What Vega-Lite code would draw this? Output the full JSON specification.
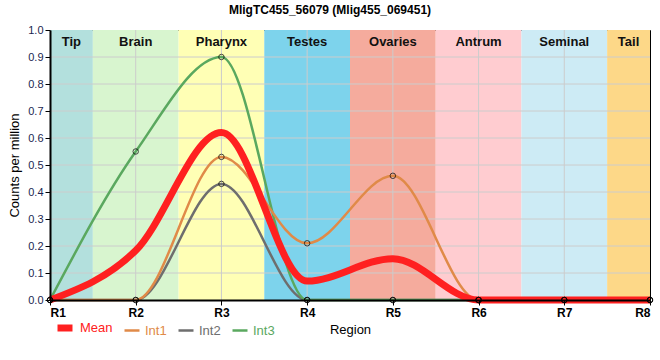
{
  "$schema": "https://vega.github.io/schema/vega-lite/v6.json",
  "width": 600,
  "height": 270,
  "autosize": {"type": "none"},
  "padding": {"left": 50, "top": 30, "right": 10, "bottom": 60},
  "background": "white",
  "title": {"text": "MligTC455_56079 (Mlig455_069451)", "font": "Liberation Sans", "fontSize": 12, "fontWeight": "bold", "color": "#000", "offset": 7, "dx": -20},
  "config": {
    "view": {"stroke": "#000", "strokeWidth": 1},
    "font": "Liberation Sans",
    "axis": {"labelOverlap": false},
    "axisY": {"labelOverlap": false, "format": ".1f", "tickCount": 10}
  },
  "datasets": {
    "bands": [
      {"region": "Tip", "start": 0, "end": 0.5, "color": "#b3e0dd"},
      {"region": "Brain", "start": 0.5, "end": 1.5, "color": "#d8f5cf"},
      {"region": "Pharynx", "start": 1.5, "end": 2.5, "color": "#ffffb5"},
      {"region": "Testes", "start": 2.5, "end": 3.5, "color": "#7dd3ec"},
      {"region": "Ovaries", "start": 3.5, "end": 4.5, "color": "#f5ab9d"},
      {"region": "Antrum", "start": 4.5, "end": 5.5, "color": "#ffccd0"},
      {"region": "Seminal", "start": 5.5, "end": 6.5, "color": "#cdebf5"},
      {"region": "Tail", "start": 6.5, "end": 7, "color": "#fdd888"}
    ],
    "hgrid": [{"v": 0.1}, {"v": 0.2}, {"v": 0.3}, {"v": 0.4}, {"v": 0.5}, {"v": 0.6}, {"v": 0.7}, {"v": 0.8}, {"v": 0.9}],
    "vgrid": [{"r": 1}, {"r": 2}, {"r": 3}, {"r": 4}, {"r": 5}, {"r": 6}],
    "series": [
      {"series": "Int2", "r": 0, "value": 0}, {"series": "Int2", "r": 1, "value": 0}, {"series": "Int2", "r": 2, "value": 0.43}, {"series": "Int2", "r": 3, "value": 0}, {"series": "Int2", "r": 4, "value": 0}, {"series": "Int2", "r": 5, "value": 0}, {"series": "Int2", "r": 6, "value": 0}, {"series": "Int2", "r": 7, "value": 0},
      {"series": "Int3", "r": 0, "value": 0}, {"series": "Int3", "r": 1, "value": 0.55}, {"series": "Int3", "r": 2, "value": 0.9}, {"series": "Int3", "r": 3, "value": 0}, {"series": "Int3", "r": 4, "value": 0}, {"series": "Int3", "r": 5, "value": 0}, {"series": "Int3", "r": 6, "value": 0}, {"series": "Int3", "r": 7, "value": 0},
      {"series": "Int1", "r": 0, "value": 0}, {"series": "Int1", "r": 1, "value": 0}, {"series": "Int1", "r": 2, "value": 0.53}, {"series": "Int1", "r": 3, "value": 0.21}, {"series": "Int1", "r": 4, "value": 0.46}, {"series": "Int1", "r": 5, "value": 0}, {"series": "Int1", "r": 6, "value": 0}, {"series": "Int1", "r": 7, "value": 0},
      {"series": "Mean", "r": 0, "value": 0}, {"series": "Mean", "r": 1, "value": 0.183}, {"series": "Mean", "r": 2, "value": 0.62}, {"series": "Mean", "r": 3, "value": 0.07}, {"series": "Mean", "r": 4, "value": 0.153}, {"series": "Mean", "r": 5, "value": 0}, {"series": "Mean", "r": 6, "value": 0}, {"series": "Mean", "r": 7, "value": 0}
    ]
  },
  "layer": [
    {
      "data": {"name": "bands"},
      "mark": {"type": "rect"},
      "encoding": {
        "x": {
          "field": "start", "type": "quantitative",
          "scale": {"domain": [0, 7], "nice": false},
          "axis": {
            "title": "Region", "values": [0, 1, 2, 3, 4, 5, 6, 7],
            "labelExpr": "'R' + (datum.value + 1)",
            "grid": false, "domainColor": "#000", "domainWidth": 2,
            "tickColor": "#000", "tickSize": 5, "labelFontSize": 12, "labelFontWeight": "bold", "labelColor": "#000",
            "labelPadding": 2, "labelOverlap": false,
            "titleFontSize": 13, "titleFontWeight": "normal", "titleColor": "#000", "titlePadding": 5, "zindex": 2
          }
        },
        "x2": {"field": "end"},
        "y": {
          "datum": 0, "type": "quantitative",
          "scale": {"domain": [0, 1], "nice": false},
          "axis": {
            "title": "Counts per million", "tickCount": 10,
            "format": ".1f", "grid": false, "domainColor": "#000", "domainWidth": 2, "labelOverlap": false,
            "tickColor": "#000", "tickSize": 5, "labelFontSize": 11, "labelColor": "#1a1f50", "labelPadding": 2,
            "titleFontSize": 13, "titleFontWeight": "normal", "titleColor": "#000", "titlePadding": 6, "zindex": 2
          }
        },
        "y2": {"datum": 1},
        "color": {"field": "color", "type": "nominal", "scale": null}
      }
    },
    {
      "data": {"name": "hgrid"},
      "mark": {"type": "rule", "color": "#cccccc", "strokeWidth": 1},
      "encoding": {"y": {"field": "v", "type": "quantitative"}}
    },
    {
      "data": {"name": "vgrid"},
      "mark": {"type": "rule", "color": "#cccccc", "strokeWidth": 1},
      "encoding": {"x": {"field": "r", "type": "quantitative"}}
    },
    {
      "data": {"name": "bands"},
      "transform": [{"calculate": "(datum.start + datum.end) / 2", "as": "mid"}],
      "mark": {"type": "text", "fontSize": 13, "fontWeight": "bold", "color": "#111", "baseline": "middle"},
      "encoding": {
        "x": {"field": "mid", "type": "quantitative"},
        "y": {"datum": 0.955},
        "text": {"field": "region"}
      }
    },
    {
      "data": {"name": "series"},
      "mark": {"type": "line", "interpolate": "monotone"},
      "encoding": {
        "x": {"field": "r", "type": "quantitative"},
        "y": {"field": "value", "type": "quantitative"},
        "color": {
          "field": "series", "type": "nominal",
          "scale": {"domain": ["Mean", "Int1", "Int2", "Int3"], "range": ["#ff2020", "#e08a48", "#6e6e6e", "#5aa85f"]},
          "legend": {
            "title": null, "orient": "none", "legendX": 4, "legendY": 287, "direction": "horizontal",
            "symbolType": "stroke", "symbolSize": 225, "labelFontSize": 13, "columnPadding": 6, "labelOffset": 4,
            "encode": {
              "labels": {"update": {"fill": {"scale": "color", "field": "value"}}},
              "symbols": {"update": {"strokeWidth": {"scale": "strokeWidth", "field": "value"}}}
            }
          }
        },
        "strokeWidth": {
          "field": "series", "type": "nominal",
          "scale": {"type": "ordinal", "domain": ["Mean", "Int1", "Int2", "Int3"], "range": [7, 2.5, 2.5, 2.5]},
          "legend": null
        },
        "order": {"field": "r", "type": "quantitative"}
      }
    },
    {
      "data": {"name": "series"},
      "transform": [{"filter": "datum.series != 'Mean'"}],
      "mark": {"type": "point", "filled": false, "stroke": "#000", "strokeWidth": 1, "size": 30, "shape": "circle"},
      "encoding": {
        "x": {"field": "r", "type": "quantitative"},
        "y": {"field": "value", "type": "quantitative"}
      }
    }
  ]
}
